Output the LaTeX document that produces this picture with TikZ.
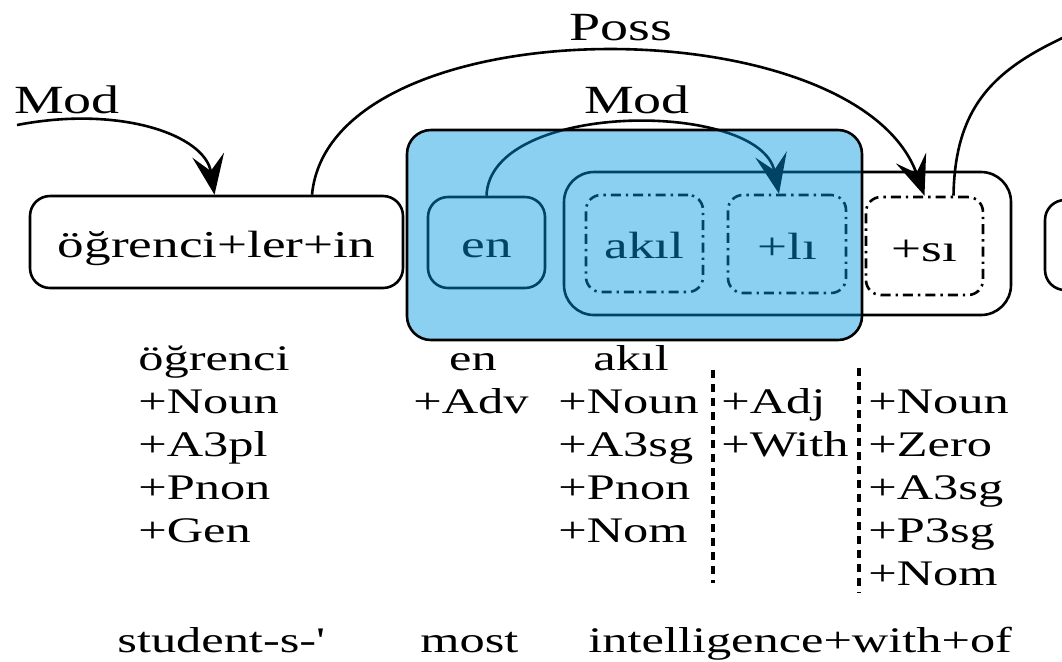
\documentclass[tikz,border=0pt]{standalone}
\usepackage{fontspec}
\setmainfont{Liberation Serif}[FakeStretch=1.4]
\newfontfamily\plainserif{Liberation Serif}[FakeStretch=1.4]
\usetikzlibrary{arrows.meta}
\definecolor{hlblue}{RGB}{0,150,225}

\begin{document}
\begin{tikzpicture}[x=0.5pt,y=-0.5pt,
    wordbox/.style={draw,rounded corners=10pt,line width=1.3pt,inner sep=0pt,
      font=\fontsize{19}{22}\selectfont,text height=15pt,text depth=0pt},
    morph/.style={wordbox,rounded corners=7.5pt,
      dash pattern=on 5pt off 2.5pt on 1.2pt off 2.5pt},
    dep/.style={line width=1.3pt,-{Stealth[length=20pt,width=16pt,inset=8pt]}},
    lbl/.style={font=\fontsize{20}{23}\selectfont},
    tag/.style={font=\fontsize{18}{21}\selectfont,anchor=base west,inner sep=0pt},
    sep/.style={line width=1.8pt,dash pattern=on 4pt off 3pt}]
    \useasboundingbox (0,0) rectangle (1062,661);
    \clip (0,0) rectangle (1062,661);
    % words and inflectional groups
    \node (b1) at (216.5,242) [wordbox,minimum width=186.5pt,minimum height=46pt] {öğrenci+ler+in};
    \node (en) at (486.5,242.5) [wordbox,minimum width=58.5pt,minimum height=45.5pt] {en};
    \node (big) at (787.5,243.5) [wordbox,rounded corners=15pt,minimum width=223.5pt,minimum height=71.5pt] {};
    \node (akil) at (644.5,243.5) [morph,minimum width=58.5pt,minimum height=48.5pt] {akıl};
    \node (li) at (787,244) [morph,minimum width=59pt,minimum height=49pt] {+lı};
    \node (si) at (924.5,246) [morph,minimum width=58.5pt,minimum height=49pt] {+sı};
    \node (nxt) at (1105,245) [wordbox,minimum width=60pt,minimum height=45pt] {};
    % dependency arcs
    \coordinate (modin) at (17,125);
    \coordinate (out) at (1080,30);
    \draw[dep] (modin) .. controls (120,105) and (205,135) .. ([xshift=-1pt]b1.north);
    \draw[dep] ([xshift=47.75pt]b1.north) .. controls (330,4) and (856,4) .. (si.north);
    \draw[dep] (en.north) .. controls (490,100) and (760,100) .. ([xshift=-4pt]li.north);
    \draw[line width=1.3pt] ([xshift=14.5pt]si.north) .. controls (955,100) and (1000,65) .. (out);
    \node (lmod1) at (67,100) [lbl] {Mod};
    \node (lposs) at (621,28) [lbl] {Poss};
    \node (lmod2) at (637,100) [lbl] {Mod};
    % highlighted word
    \node (hl) at (634.5,235) [draw,line width=1.3pt,rounded corners=12pt,fill=hlblue,
      fill opacity=0.45,minimum width=227.5pt,minimum height=105pt] {};
    % analyses
    \foreach \t [count=\i from 0] in {öğrenci,+Noun,+A3pl,+Pnon,+Gen}
      \node (stem\i) at (138,{370+43*\i}) [tag] {\t};
    \node (en0) at (473,370) [tag,anchor=base] {en};
    \node (en1) at (413,413) [tag] {+Adv};
    \node (ak0) at (593,370) [tag] {akıl};
    \foreach \t [count=\i] in {+Noun,+A3sg,+Pnon,+Nom}
      \node (ak\i) at (558,{370+43*\i}) [tag] {\t};
    \foreach \t [count=\i] in {+Adj,+With}
      \node (adj\i) at (721,{370+43*\i}) [tag] {\t};
    \foreach \t [count=\i] in {+Noun,+Zero,+A3sg,+P3sg,+Nom}
      \node (sg\i) at (868,{370+43*\i}) [tag] {\t};
    \draw[sep] (713,370) -- (713,583);
    \draw[sep] (859,368) -- (859,593);
    % glosses
    \node (g1) at (117,652) [tag] {student-s-{\plainserif '}};
    \node (g2) at (420,652) [tag] {most};
    \node (g3) at (588,652) [tag] {intelligence+with+of};
\end{tikzpicture}
\end{document}
